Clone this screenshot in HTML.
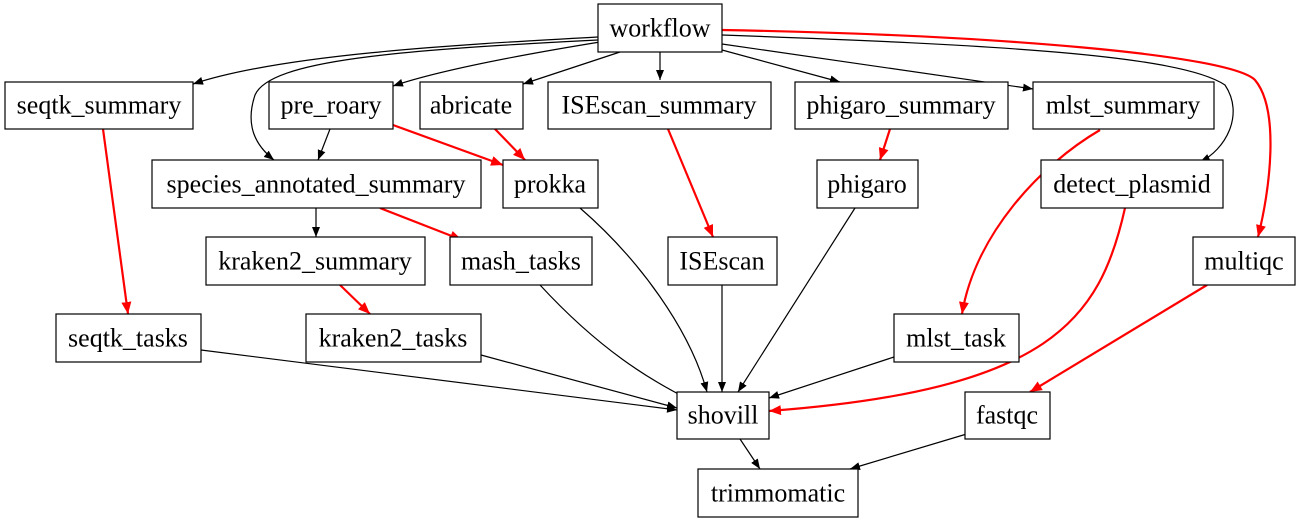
<!DOCTYPE html>
<html><head><meta charset="utf-8"><style>
html,body{margin:0;padding:0;background:#fff;}
svg text{font-family:"Liberation Serif",serif;font-size:26px;text-anchor:middle;dominant-baseline:central;}
</style></head><body>
<svg width="1302" height="523" viewBox="0 0 1302 523" xmlns="http://www.w3.org/2000/svg">
<defs>
<marker id="b" markerWidth="10" markerHeight="8" refX="10" refY="4" orient="auto" markerUnits="userSpaceOnUse"><path d="M0,0 L10,4 L0,8 z" fill="#000"/></marker>
<marker id="r" markerWidth="12" markerHeight="10" refX="12" refY="5" orient="auto" markerUnits="userSpaceOnUse"><path d="M0,0 L12,5 L0,10 z" fill="#f00"/></marker>
</defs>
<g fill="none" stroke="#000" stroke-width="1.2" marker-end="url(#b)">
<path d="M598,37 C450,45 280,55 193,84"/>
<path d="M600,42 C520,55 440,70 393,86"/>
<path d="M620,52 L523,84"/>
<path d="M660,52 L660,80"/>
<path d="M722,50 L840,82"/>
<path d="M722,44 L1033,89"/>
<path d="M598,40 C400,50 270,60 255,95 C245,125 255,145 274,160"/>
<path d="M722,35 C1000,45 1180,55 1225,85 C1245,115 1225,150 1200,162"/>
<path d="M330,129 L318,160"/>
<path d="M316,208 L316,237"/>
<path d="M580,208 C640,260 690,330 707,392"/>
<path d="M855,208 L738,392"/>
<path d="M540,285 C600,350 650,380 690,400"/>
<path d="M722,285 L722,392"/>
<path d="M201,350 L677,410"/>
<path d="M481,355 L677,408"/>
<path d="M894,357 L769,398"/>
<path d="M740,439 L760,469"/>
<path d="M970,433 L850,469"/>
</g>
<g fill="none" stroke="#f00" stroke-width="2.2" marker-end="url(#r)">
<path d="M722,30 C1000,35 1230,55 1255,80 C1280,110 1270,190 1258,237"/>
<path d="M393,125 L503,165"/>
<path d="M495,129 L525,160"/>
<path d="M668,129 L713,237"/>
<path d="M890,129 L880,160"/>
<path d="M1100,130 C1040,165 975,235 962,314"/>
<path d="M380,208 L462,240"/>
<path d="M1125,208 C1100,320 1050,390 769,411"/>
<path d="M340,285 L370,314"/>
<path d="M1207,285 L1030,392"/>
<path d="M103,129 L128,314"/>
</g>
<g fill="#fff" stroke="#000" stroke-width="1.2">
<rect x="598" y="4" width="124" height="48"/>
<rect x="5" y="82" width="188" height="47"/>
<rect x="269" y="82" width="124" height="47"/>
<rect x="420" y="82" width="103" height="47"/>
<rect x="548" y="82" width="223" height="47"/>
<rect x="795" y="82" width="213" height="47"/>
<rect x="1033" y="82" width="181" height="47"/>
<rect x="152" y="160" width="329" height="48"/>
<rect x="503" y="160" width="95" height="48"/>
<rect x="817" y="160" width="101" height="48"/>
<rect x="1041" y="160" width="182" height="48"/>
<rect x="206" y="237" width="219" height="48"/>
<rect x="450" y="237" width="142" height="48"/>
<rect x="668" y="237" width="109" height="48"/>
<rect x="1193" y="237" width="102" height="48"/>
<rect x="56" y="314" width="145" height="48"/>
<rect x="306" y="314" width="175" height="48"/>
<rect x="894" y="314" width="125" height="48"/>
<rect x="677" y="392" width="92" height="47"/>
<rect x="965" y="392" width="85" height="47"/>
<rect x="698" y="469" width="160" height="48"/>
</g>
<g fill="#000">
<text x="660" y="28">workflow</text>
<text x="99" y="105">seqtk_summary</text>
<text x="331" y="105">pre_roary</text>
<text x="471" y="105">abricate</text>
<text x="659" y="105">ISEscan_summary</text>
<text x="901" y="105">phigaro_summary</text>
<text x="1123" y="105">mlst_summary</text>
<text x="316" y="184">species_annotated_summary</text>
<text x="550" y="184">prokka</text>
<text x="867" y="184">phigaro</text>
<text x="1132" y="184">detect_plasmid</text>
<text x="315" y="261">kraken2_summary</text>
<text x="521" y="261">mash_tasks</text>
<text x="722" y="261">ISEscan</text>
<text x="1244" y="261">multiqc</text>
<text x="128" y="338">seqtk_tasks</text>
<text x="393" y="338">kraken2_tasks</text>
<text x="956" y="338">mlst_task</text>
<text x="723" y="415">shovill</text>
<text x="1007" y="415">fastqc</text>
<text x="778" y="493">trimmomatic</text>
</g>
</svg>
</body></html>
